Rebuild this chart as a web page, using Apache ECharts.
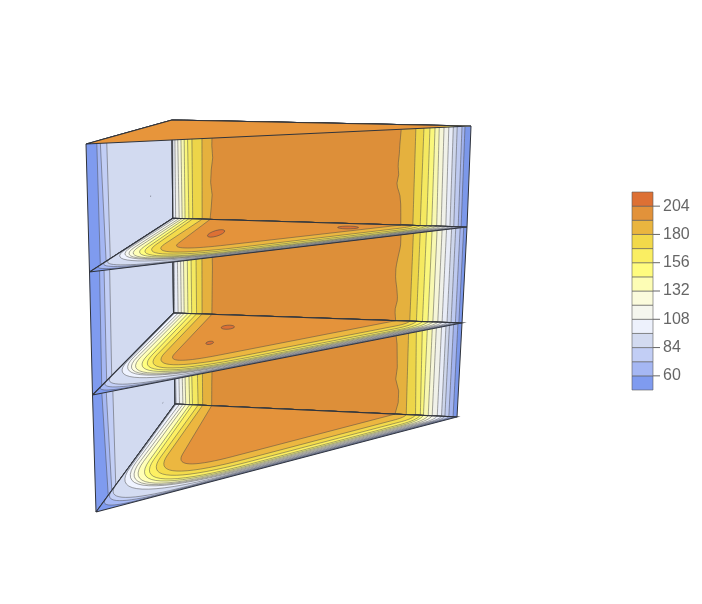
<!DOCTYPE html>
<html><head><meta charset="utf-8">
<style>html,body{margin:0;padding:0;background:#fff}#c{width:702px;height:604px}</style>
<script src="https://cdn.jsdelivr.net/npm/echarts@6/dist/echarts.min.js"></script>
</head><body><div id="c"></div>
<script>
// ---------- values ----------
const bandEdges = [48,60,72,84,96,108,120,132,144,156,168,180,192,204,216];
const tickValues = [60,84,108,132,156,180,204];
const bandColors = ['#7F9BEF','#A5B7F3','#C2CEF5','#D2DAF0','#EDF1FC','#F5F6EE','#FBFBDC','#FDFDB5','#FFFC7F','#FAEE62','#F2D94A','#EAB53F','#E2923A','#DD7034'];

// Contour positions on the long wall: level -> fraction along wall, sampled top..bottom of each tier
const wallRise = [ // levels 96..192, rising side
 { 96:[.002,.002],108:[.009,.010],120:[.018,.022],132:[.029,.032],144:[.040,.042],156:[.051,.055],168:[.066,.068],180:[.100,.100],192:[.134,.134,.133,.136,.131,.129,.134,.131,.127]},
 { 96:[.003,.004],108:[.014,.016],120:[.025,.027],132:[.035,.037],144:[.048,.050],156:[.061,.063],168:[.078,.080],180:[.099,.099],192:[.133,.133,.135,.134,.133]},
 { 96:[.003,.004],108:[.014,.016],120:[.025,.028],132:[.035,.038],144:[.048,.052],156:[.058,.062],168:[.078,.082],180:[.099,.098],192:[.132,.130,.133,.131,.130]}
];
const wallFall = [ // levels 60..192, falling side
 { 60:[.980,.980],72:[.970,.970],84:[.954,.955],96:[.941,.942],108:[.926,.928],120:[.910,.912],132:[.894,.897],144:[.880,.880],156:[.863,.863],168:[.843,.841],180:[.816,.816],192:[.768,.766,.764,.763,.760,.763,.757,.769,.773,.774,.775]},
 { 60:[.989,.989],72:[.977,.977],84:[.962,.962],96:[.948,.948],108:[.931,.931],120:[.916,.916],132:[.899,.899],144:[.882,.882],156:[.863,.863],168:[.842,.842],180:[.819,.819],192:[.777,.777,.777,.770,.764,.764,.770,.774,.766,.770]},
 { 60:[.986,.986],72:[.971,.971],84:[.957,.957],96:[.945,.945],108:[.930,.930],120:[.912,.912],132:[.898,.898],144:[.881,.881],156:[.863,.870],168:[.842,.853],180:[.816,.820],192:[.775,.772,.778,.780,.782,.778,.790,.790,.780]}
];
// Contours on the short wall: level -> fraction from front edge toward the fold
const sideWall = [
 {60:[.125,.13],72:[.165,.20],84:[.24,.25]},
 {60:[.12,.114],72:[.173,.175],84:[.24,.237]},
 {60:[.11,.155],72:[.163,.20],84:[.245,.25]}
];
// Contour elbows on the shelves: level -> [along back edge, toward front corner, roundness]
const shelfElbows = [
 {60:[0,.992,.12],72:[.002,.985,.2],84:[.004,.976,.25],96:[.006,.966,.38],108:[.01,.953,.42],120:[.022,.931,.40],132:[.035,.907,.38],144:[.055,.875,.36],156:[.07,.845,.34],168:[.085,.80,.32],180:[.105,.74,.28],192:[.15,.60,.16]},
 {60:[0,.992,.12],72:[.002,.985,.2],84:[.004,.976,.25],96:[.006,.966,.38],108:[.01,.953,.42],120:[.022,.931,.40],132:[.035,.907,.38],144:[.055,.875,.36],156:[.07,.845,.34],168:[.085,.805,.31],180:[.105,.745,.27],192:[.14,.63,.15]},
 {60:[0,.992,.12],72:[.002,.985,.2],84:[.004,.976,.25],96:[.006,.966,.38],108:[.01,.953,.42],120:[.022,.931,.40],132:[.035,.907,.38],144:[.055,.875,.36],156:[.07,.845,.34],168:[.085,.80,.32],180:[.105,.74,.28],192:[.16,.615,.17]}
];
const shelfPeaks = [
 [[.217,.246,.022,.07],[.616,.071,.035,.025]],
 [[.229,.1455,.022,.025],[.22,.337,.012,.02]],
 []
];
const sideWallSpecks = [[.74,.66],null,[.85,.817]];
const topFadeLevels = [180,156,132,108,96,84,60];
const topFadeAlong = [.905,.93,.945,.96,.97,.98,.99];

// ---------- view of the prism on the page ----------
const frontEdge = [[86,144],[89.5,272],[92.5,395],[96,512]];
const foldEdge  = [[172,120],[172.7,218.3],[173.5,313],[175,404]];
const rightEdge = [[471,126],[467,227],[462,323],[457,417]];

function shade(hex,f){const n=parseInt(hex.slice(1),16);
 const c=[n>>16,(n>>8)&255,n&255].map(v=>Math.min(255,Math.round(v*f)));return `rgb(${c[0]},${c[1]},${c[2]})`;}
const colorAbove=(L,f)=>shade(bandColors[bandEdges.indexOf(L)],f);
const lerp=(p,q,t)=>[p[0]+(q[0]-p[0])*t,p[1]+(q[1]-p[1])*t];
const quadPt=(q,s,t)=>lerp(lerp(q[0],q[1],s),lerp(q[3],q[2],s),t);
const triPt=(tr,a,b)=>[tr.B[0]+a*(tr.R[0]-tr.B[0])+b*(tr.F[0]-tr.B[0]),tr.B[1]+a*(tr.R[1]-tr.B[1])+b*(tr.F[1]-tr.B[1])];
const contourLine='rgba(72,72,72,.7)', edgeLine='#30343c';

function sample(arr,t){const x=t*(arr.length-1),i=Math.min(arr.length-2,Math.floor(x));return arr[i]+(arr[i+1]-arr[i])*(x-i);}
function poly(api,pts,fill,stroke,lw){return {type:'polygon',shape:{points:pts.map(p=>api.coord(p))},
  style:{fill:fill,stroke:stroke||null,lineWidth:lw||0}};}
function outline(api,pts,w){return {type:'polyline',shape:{points:pts.map(p=>api.coord(p))},style:{fill:null,stroke:edgeLine,lineWidth:w||1}};}
function bez(out,p,e,q,n){for(let i=0;i<=n;i++){const t=i/n,u=1-t;
  out.push([u*u*p[0]+2*u*t*e[0]+t*t*q[0],u*u*p[1]+2*u*t*e[1]+t*t*q[1]]);}}

function sideFace(api,tier){
 const q=[frontEdge[tier],foldEdge[tier],foldEdge[tier+1],frontEdge[tier+1]];
 const ch=[poly(api,q,bandColors[0])];
 [60,72,84].forEach(L=>{const c=sideWall[tier][L];
  ch.push(poly(api,[quadPt(q,c[0],0),quadPt(q,1,0),quadPt(q,1,1),quadPt(q,c[1],1)],colorAbove(L,1),contourLine,.7));});
 const sp=sideWallSpecks[tier];
 if(sp){const e=[];for(let i=0;i<10;i++){const g=i/10*2*Math.PI;e.push(quadPt(q,sp[0]+.007*Math.cos(g),sp[1]+.007*Math.sin(g)));}
  ch.push(poly(api,e,'#8d93a3'));}
 ch.push(outline(api,[...q,q[0]]));
 return ch;
}
function longFace(api,tier){
 const q=[foldEdge[tier],rightEdge[tier],rightEdge[tier+1],foldEdge[tier+1]];
 const ch=[poly(api,q,shade(bandColors[0],.98))];
 const N=24;
 bandEdges.slice(1,13).forEach(L=>{
  const fall=wallFall[tier][L], rise=wallRise[tier][L], pts=[];
  if(rise){for(let i=0;i<=N;i++){const t=i/N;pts.push(quadPt(q,sample(rise,t),t));}}
  else{pts.push(quadPt(q,0,0));pts.push(quadPt(q,0,1));}
  for(let i=N;i>=0;i--){const t=i/N;pts.push(quadPt(q,sample(fall,t),t));}
  ch.push(poly(api,pts,colorAbove(L,.98),contourLine,.7));
 });
 ch.push(outline(api,[...q,q[0]]));
 return ch;
}
function shelfFace(api,idx){ // idx: 0 upper shelf,1 lower shelf,2 floor
 const tr={F:frontEdge[idx+1],B:foldEdge[idx+1],R:rightEdge[idx+1]};
 const ch=[poly(api,[tr.F,tr.B,tr.R],bandColors[0])];
 bandEdges.slice(1,13).forEach(L=>{
  const el=shelfElbows[idx][L], fall=wallFall[idx][L], rise=wallRise[idx][L];
  const aR=fall[fall.length-1], round=el[2];
  const P0=rise?[rise[rise.length-1],0]:[0,1-sideWall[idx][L][1]];
  const P2=[aR,0];
  const b2=el[0]+el[1]-aR;               // height of the front run where it reaches the wall contour
  const hasEnd=b2>.004, E2=[aR,b2], D=hasEnd?[aR-b2,2*b2]:P2;
  const A=lerp(el,P0,Math.min(1,round/Math.abs(el[1]-P0[1]))), C=lerp(el,D,Math.min(1,round/Math.abs(D[0]-el[0]))), ab=[];
  ab.push(P0);
  bez(ab,A,el,C,18);
  if(hasEnd)bez(ab,D,E2,P2,8);else ab.push(P2);
  if(!rise){ab.push([0,0]);}
  ch.push(poly(api,ab.map(p=>triPt(tr,p[0],p[1])),colorAbove(L,1.01),contourLine,.7));
 });
 shelfPeaks[idx].forEach(pk=>{const e=[];for(let i=0;i<16;i++){const g=i/16*2*Math.PI;
   e.push(triPt(tr,pk[0]+pk[2]*Math.cos(g),pk[1]+pk[3]*Math.sin(g)));}
  ch.push(poly(api,e,bandColors[13],contourLine,.8));});
 ch.push(outline(api,[tr.F,tr.B,tr.R,tr.F],1.1));
 return ch;
}
function topFace(api){
 const tr={F:frontEdge[0],B:foldEdge[0],R:rightEdge[0]};
 const ch=[poly(api,[tr.F,tr.B,tr.R],shade(bandColors[12],1.02))];
 topFadeLevels.forEach((L,i)=>{const a=topFadeAlong[i];
  ch.push(poly(api,[triPt(tr,a,0),tr.R,triPt(tr,a,1-a)],colorAbove(L,1)));});
 ch.push(outline(api,[tr.F,tr.B,tr.R,tr.F],1.1));
 return ch;
}
const layers=[['side',2],['long',2],['shelf',2],['side',1],['long',1],['shelf',1],['side',0],['long',0],['shelf',0],['top',0]];

const chart=echarts.init(document.getElementById('c'),null,{renderer:'canvas'});
chart.setOption({
 animation:false,backgroundColor:'#fff',
 grid:[{left:0,top:0,width:702,height:604,show:false},{left:632,top:192,width:21,height:198,show:false}],
 xAxis:[{gridIndex:0,type:'value',min:0,max:702,show:false},{gridIndex:1,type:'value',min:0,max:1,show:false}],
 yAxis:[{gridIndex:0,type:'value',min:0,max:604,inverse:true,show:false},
  {gridIndex:1,type:'value',min:bandEdges[0],max:bandEdges[14],position:'right',
   axisLine:{show:false},splitLine:{show:false},axisTick:{show:false},
   axisLabel:{show:true,customValues:tickValues,margin:10,color:'#666',fontFamily:'Liberation Sans',fontSize:16}}],
 series:[
  {type:'custom',xAxisIndex:0,yAxisIndex:0,clip:false,silent:true,coordinateSystem:'cartesian2d',
   data:layers.map((l,i)=>[i]),encode:{x:0,y:0},
   renderItem(p,api){const l=layers[p.dataIndex];let c;
    if(l[0]==='side')c=sideFace(api,l[1]);else if(l[0]==='long')c=longFace(api,l[1]);
    else if(l[0]==='shelf')c=shelfFace(api,l[1]);else c=topFace(api);
    return {type:'group',children:c};}},
  {type:'custom',xAxisIndex:1,yAxisIndex:1,silent:true,coordinateSystem:'cartesian2d',
   data:bandColors.map((c,i)=>[bandEdges[i],bandEdges[i+1]]),encode:{y:[0,1]},
   renderItem(p,api){const a=api.coord([0,api.value(1)]),b=api.coord([1,api.value(0)]);
    return {type:'rect',shape:{x:a[0],y:a[1],width:b[0]-a[0],height:b[1]-a[1]},
     style:{fill:bandColors[p.dataIndex],stroke:'rgba(90,90,90,.75)',lineWidth:.8}};}},
  {type:'custom',xAxisIndex:1,yAxisIndex:1,silent:true,clip:false,coordinateSystem:'cartesian2d',z:5,
   data:tickValues.map(v=>[1,v]),encode:{x:0,y:1},
   renderItem(p,api){const a=api.coord([1,api.value(1)]);
    return {type:'line',shape:{x1:a[0],y1:a[1],x2:a[0]+7,y2:a[1]},style:{stroke:'#666',lineWidth:1}};}}
 ]
});
</script></body></html>
